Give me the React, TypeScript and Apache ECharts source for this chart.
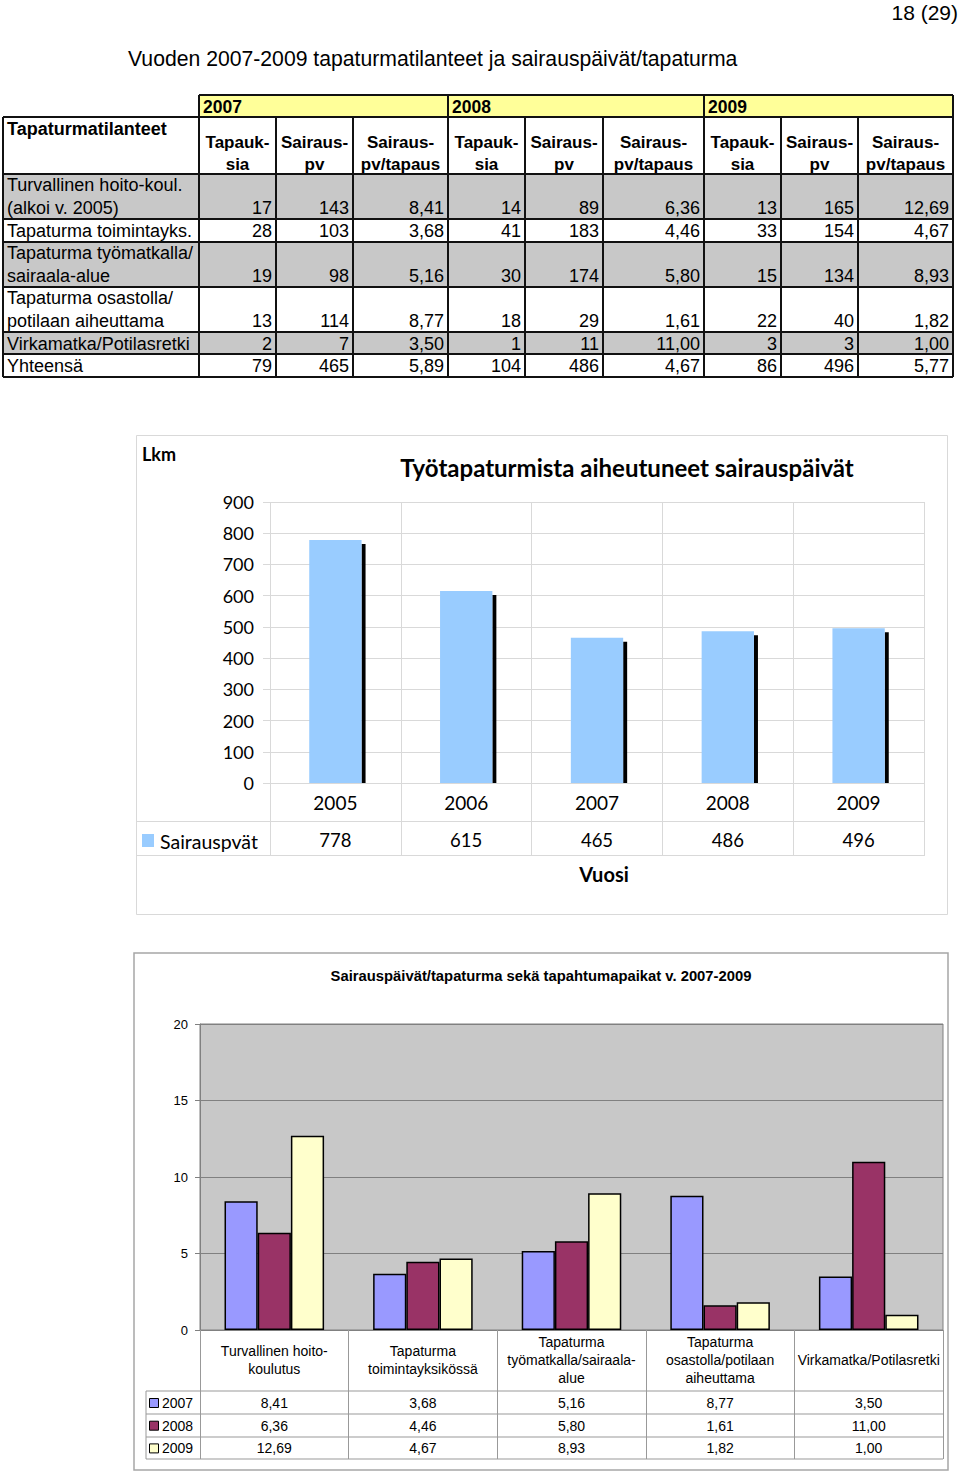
import React, { useEffect, useRef } from "react";
import * as echarts from "echarts";

// ---------- Data ----------
const pageNumber = "18 (29)";
const pageTitle = "Vuoden 2007-2009 tapaturmatilanteet ja sairauspäivät/tapaturma";
const tableCorner = "Tapaturmatilanteet";
const tableYears = ["2007", "2008", "2009"];
const columnHeaders = ["Tapauk-\nsia", "Sairaus-\npv", "Sairaus-\npv/tapaus"];
const situations = [
  "Turvallinen hoito-koul.\n(alkoi v. 2005)",
  "Tapaturma toimintayks.",
  "Tapaturma työmatkalla/\nsairaala-alue",
  "Tapaturma osastolla/\npotilaan aiheuttama",
  "Virkamatka/Potilasretki",
  "Yhteensä",
];
const cases2007 = [17, 28, 19, 13, 2, 79];
const days2007 = [143, 103, 98, 114, 7, 465];
const perCase2007 = ["8,41", "3,68", "5,16", "8,77", "3,50", "5,89"];
const cases2008 = [14, 41, 30, 18, 1, 104];
const days2008 = [89, 183, 174, 29, 11, 486];
const perCase2008 = ["6,36", "4,46", "5,80", "1,61", "11,00", "4,67"];
const cases2009 = [13, 33, 15, 22, 3, 86];
const days2009 = [165, 154, 134, 40, 3, 496];
const perCase2009 = ["12,69", "4,67", "8,93", "1,82", "1,00", "5,77"];

// Chart 1
const chart1Title = "Työtapaturmista aiheutuneet sairauspäivät";
const chart1YName = "Lkm";
const chart1XName = "Vuosi";
const chart1SeriesName = "Sairauspvät";
const years = ["2005", "2006", "2007", "2008", "2009"];
const sickDays = [778, 615, 465, 486, 496];

// Chart 2
const chart2Title = "Sairauspäivät/tapaturma sekä tapahtumapaikat v. 2007-2009";
const places = [
  "Turvallinen hoito-\nkoulutus",
  "Tapaturma\ntoimintayksikössä",
  "Tapaturma\ntyömatkalla/sairaala-\nalue",
  "Tapaturma\nosastolla/potilaan\naiheuttama",
  "Virkamatka/Potilasretki",
];
const seriesYears = ["2007", "2008", "2009"];
const rate2007 = [8.41, 3.68, 5.16, 8.77, 3.5];
const rate2008 = [6.36, 4.46, 5.8, 1.61, 11.0];
const rate2009 = [12.69, 4.67, 8.93, 1.82, 1.0];

// ---------- Styles / layout ----------
const SANS = "Liberation Sans";
const CAL = "Lato";
const colX = [3, 199, 276, 353, 448, 525, 603, 704, 781, 858, 953];
const rowY = [95, 117, 174, 219, 242, 287, 332, 354, 377];
const barColors = ["#9999ff", "#993366", "#ffffcc"];

function txt(text: string, x: number, y: number, o: any = {}) {
  return {
    type: "text",
    x,
    y,
    z: 10,
    style: {
      text,
      fill: o.fill || "#000",
      fontSize: o.size || 18,
      fontFamily: o.family || SANS,
      fontWeight: o.bold ? "bold" : "normal",
      align: o.align || "left",
      verticalAlign: "middle",
    },
  };
}
function line(x1: number, y1: number, x2: number, y2: number, stroke = "#111", lw = 2) {
  return { type: "line", z: 5, shape: { x1, y1, x2, y2 }, style: { stroke, lineWidth: lw } };
}
function rect(x: number, y: number, w: number, h: number, style: any, z = 1) {
  return { type: "rect", z, shape: { x, y, width: w, height: h }, style };
}

function buildTable() {
  const g: any[] = [];
  g.push(rect(colX[1], rowY[0], colX[10] - colX[1], rowY[1] - rowY[0], { fill: "#ffff99" }));
  for (let r = 0; r < situations.length; r++) {
    if (r % 2 === 0 && r < 5) {
      g.push(rect(colX[0], rowY[r + 2], colX[10] - colX[0], rowY[r + 3] - rowY[r + 2], { fill: "#c8c8c8" }));
    }
  }
  g.push(line(colX[1], rowY[0], colX[10], rowY[0]));
  for (let r = 1; r < rowY.length; r++) g.push(line(colX[0], rowY[r], colX[10], rowY[r]));
  [1, 4, 7, 10].forEach((c) => g.push(line(colX[c], rowY[0], colX[c], rowY[1])));
  for (let c = 0; c < colX.length; c++) g.push(line(colX[c], rowY[1], colX[c], rowY[rowY.length - 1]));
  tableYears.forEach((y, i) =>
    g.push(txt(y, colX[1 + i * 3] + 4, (rowY[0] + rowY[1]) / 2 + 1, { bold: true, size: 17.5 }))
  );
  g.push(txt(tableCorner, 7, 129, { bold: true }));
  for (let c = 0; c < 9; c++) {
    const parts = columnHeaders[c % 3].split("\n");
    const cx = (colX[c + 1] + colX[c + 2]) / 2;
    g.push(txt(parts[0], cx, 142, { bold: true, align: "center", size: 17 }));
    g.push(txt(parts[1], cx, 164, { bold: true, align: "center", size: 17 }));
  }
  const cols = [cases2007, days2007, perCase2007, cases2008, days2008, perCase2008, cases2009, days2009, perCase2009];
  situations.forEach((s, r) => {
    const top = rowY[r + 2];
    const bot = rowY[r + 3];
    const parts = s.split("\n");
    let valY;
    if (parts.length === 2) {
      g.push(txt(parts[0], 7, top + 11));
      g.push(txt(parts[1], 7, bot - 11));
      valY = bot - 11;
    } else {
      valY = (top + bot) / 2 + 0.5;
      g.push(txt(parts[0], 7, valY));
    }
    cols.forEach((col, c) => {
      g.push(txt(String(col[r]), colX[c + 2] - 4, valY, { align: "right" }));
    });
  });
  return g;
}

export default function App() {
  const ref = useRef<HTMLDivElement>(null);
  useEffect(() => {
    if (!ref.current) return;
    const chart = echarts.init(ref.current, undefined, { renderer: "svg" });

    const graphic: any[] = [
      txt(pageNumber, 958, 12, { size: 21, align: "right" }),
      txt(pageTitle, 128, 58, { size: 21.2 }),
      ...buildTable(),
      rect(136.5, 435.5, 811, 479, { fill: "none", stroke: "#d9d9d9", lineWidth: 1 }, 0),
      txt(chart1YName, 142, 454, { family: CAL, bold: true, size: 18 }),
      txt(chart1Title, 627, 467, { family: CAL, bold: true, size: 24, align: "center" }),
      line(137, 821.5, 924, 821.5, "#d9d9d9", 1),
      line(137, 855.5, 924, 855.5, "#d9d9d9", 1),
      rect(142, 834, 12, 13, { fill: "#99ccff" }),
      txt(chart1SeriesName, 160, 841, { family: CAL, size: 19.5 }),
      txt(chart1XName, 604, 874, { family: CAL, bold: true, size: 20, align: "center" }),
      rect(134, 953, 814, 517, { fill: "none", stroke: "#a6a6a6", lineWidth: 1.5 }, 0),
      txt(chart2Title, 541, 976, { bold: true, size: 14.8, align: "center" }),
      line(146, 1391, 943, 1391, "#999", 1),
      line(146, 1414, 943, 1414, "#999", 1),
      line(146, 1437, 943, 1437, "#999", 1),
      line(146, 1459, 943, 1459, "#999", 1),
      line(146, 1391, 146, 1459, "#999", 1),
    ];
    seriesYears.forEach((y, i) => {
      const cy = 1403 + i * 22.7;
      graphic.push(rect(149.5, cy - 4.5, 9, 9, { fill: barColors[i], stroke: "#000", lineWidth: 1 }, 6));
      graphic.push(txt(y, 162, cy, { size: 14 }));
    });

    const rateRows = [rate2007, rate2008, rate2009];
    const fmt = (v: number) => v.toFixed(2).replace(".", ",");

    const option: any = {
      animation: false,
      grid: [
        { left: 270, top: 502, width: 654, height: 281 },
        {
          left: 200,
          top: 1024,
          width: 743,
          height: 306,
          show: true,
          backgroundColor: "#c8c8c8",
          borderColor: "#808080",
          borderWidth: 1,
        },
      ],
      xAxis: [
        {
          gridIndex: 0,
          type: "category",
          data: years,
          position: "bottom",
          axisLine: { lineStyle: { color: "#d9d9d9" } },
          axisTick: { show: true, length: 73, lineStyle: { color: "#d9d9d9" } },
          splitLine: { show: true, lineStyle: { color: "#d9d9d9" } },
          axisLabel: { margin: 19, verticalAlign: "middle", fontSize: 19, fontFamily: CAL, color: "#000" },
        },
        {
          gridIndex: 0,
          type: "category",
          data: sickDays.map(String),
          position: "bottom",
          axisLine: { show: false },
          axisTick: { show: false },
          axisLabel: { margin: 57, verticalAlign: "middle", fontSize: 18.5, fontFamily: CAL, color: "#000" },
        },
        {
          gridIndex: 1,
          type: "category",
          data: places,
          position: "bottom",
          axisLine: { lineStyle: { color: "#808080", width: 1 } },
          axisTick: { show: true, length: 129, lineStyle: { color: "#999" } },
          axisLabel: {
            interval: 0,
            margin: 30,
            verticalAlign: "middle",
            fontSize: 14,
            lineHeight: 18,
            fontFamily: SANS,
            color: "#000",
          },
        },
        ...rateRows.map((row, i) => ({
          gridIndex: 1,
          type: "category",
          data: row.map(fmt),
          position: "bottom",
          axisLine: { show: false },
          axisTick: { show: false },
          axisLabel: {
            interval: 0,
            margin: 73 + i * 22.7,
            verticalAlign: "middle",
            fontSize: 14,
            fontFamily: SANS,
            color: "#000",
          },
        })),
      ],
      yAxis: [
        {
          gridIndex: 0,
          type: "value",
          min: 0,
          max: 900,
          interval: 100,
          axisLine: { show: false },
          axisTick: { show: true, length: 7, lineStyle: { color: "#d9d9d9" } },
          splitLine: { lineStyle: { color: "#d9d9d9" } },
          axisLabel: { margin: 16, fontSize: 18, fontFamily: CAL, color: "#000" },
        },
        {
          gridIndex: 1,
          type: "value",
          min: 0,
          max: 20,
          interval: 5,
          axisLine: { show: true, lineStyle: { color: "#808080" } },
          axisTick: { show: true, length: 5, lineStyle: { color: "#808080" } },
          splitLine: { lineStyle: { color: "#808080" } },
          axisLabel: { margin: 12, fontSize: 13, fontFamily: SANS, color: "#000" },
        },
      ],
      series: [
        {
          type: "custom",
          name: chart1SeriesName,
          xAxisIndex: 0,
          yAxisIndex: 0,
          data: sickDays.map((v, i) => [i, v]),
          encode: { x: 0, y: 1 },
          renderItem: (params: any, api: any) => {
            const idx = api.value(0);
            const top = api.coord([idx, api.value(1)]);
            const base = api.coord([idx, 0]);
            const bw = api.size([1, 0])[0] * 0.4;
            return {
              type: "group",
              children: [
                {
                  type: "rect",
                  shape: { x: top[0] + bw / 2, y: top[1] + 4, width: 4, height: base[1] - top[1] - 4 },
                  style: { fill: "#000" },
                },
                {
                  type: "rect",
                  shape: { x: top[0] - bw / 2, y: top[1], width: bw, height: base[1] - top[1] },
                  style: { fill: "#99ccff" },
                },
              ],
            };
          },
        },
        ...rateRows.map((row, i) => ({
          type: "bar",
          name: seriesYears[i],
          xAxisIndex: 2,
          yAxisIndex: 1,
          data: row,
          barGap: "0%",
          barCategoryGap: "33%",
          itemStyle: { color: barColors[i], borderColor: "#000", borderWidth: 1.5 },
        })),
      ],
      graphic,
    };
    chart.setOption(option);
    return () => chart.dispose();
  }, []);
  return (
    <div
      ref={ref}
      style={{ position: "absolute", left: 0, top: 0, width: 960, height: 1472, background: "#fff" }}
    />
  );
}
